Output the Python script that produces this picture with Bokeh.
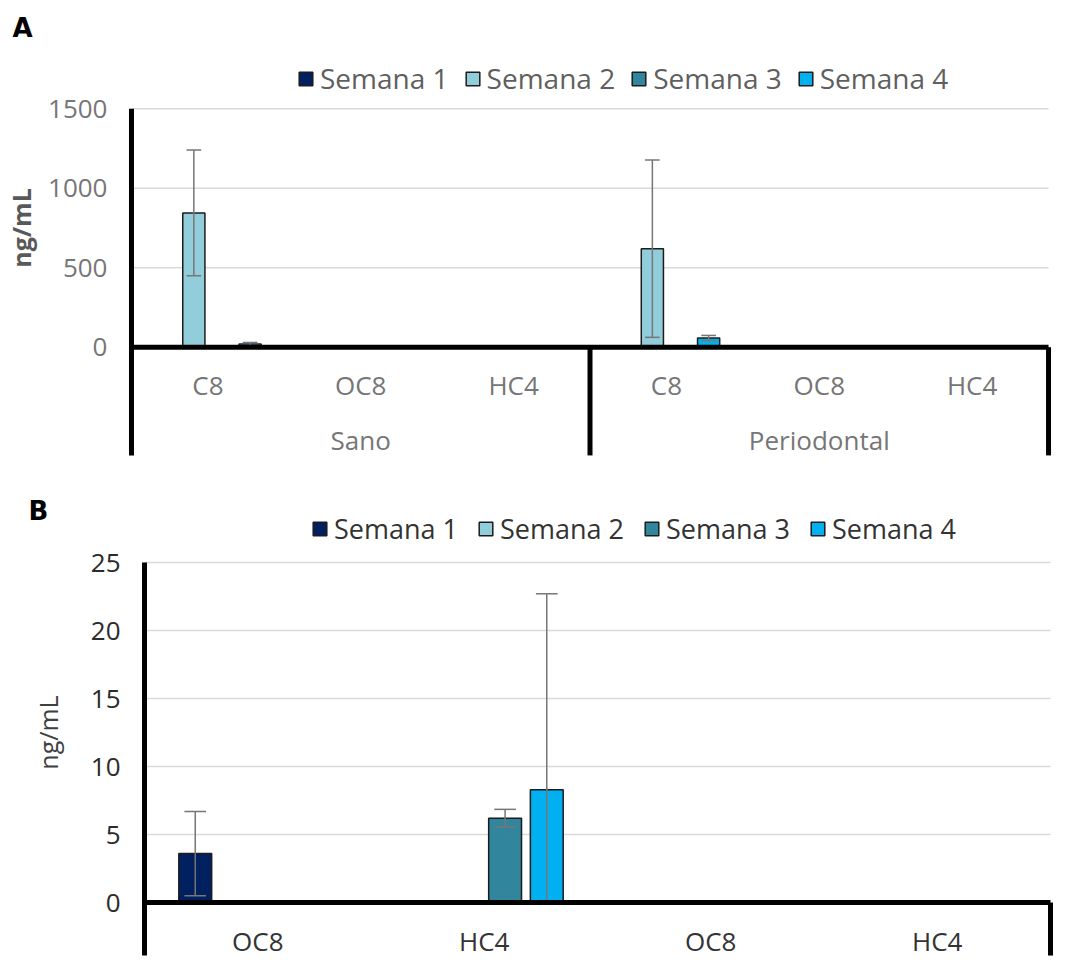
import numpy as np
from bokeh.plotting import figure
from bokeh.layouts import column
from bokeh.models import Range1d, FixedTicker, Legend, LegendItem
from bokeh.core.properties import value
from bokeh.embed import file_html
from bokeh.resources import INLINE

FONT = "Open Sans"

# ---- shared series ----
series = ["Semana 1", "Semana 2", "Semana 3", "Semana 4"]
colors = ["#002060", "#92CDDC", "#31859C", "#00B0F0"]

# ---- panel A: concentrations by group (Sano / Periodontal) and compound ----
groups_a = ["Sano", "Periodontal"]
compounds_a = ["C8", "OC8", "HC4", "C8", "OC8", "HC4"]
# order: Sano C8, OC8, HC4, Periodontal C8, OC8, HC4
a_sem1 = [0, 0, 0, 0, 0, 0]
a_sem2 = [845, 0, 0, 620, 0, 0]
a_sem3 = [0, 0, 0, 0, 0, 0]
a_sem4 = [20, 0, 0, 58, 0, 0]
a_err1 = [0, 0, 0, 0, 0, 0]
a_err2 = [395, 0, 0, 558, 0, 0]
a_err3 = [0, 0, 0, 0, 0, 0]
a_err4 = [10, 0, 0, 16, 0, 0]
ticks_a = [0, 500, 1000, 1500]

# ---- panel B: low-range compounds ----
compounds_b = ["OC8", "HC4", "OC8", "HC4"]
b_sem1 = [3.6, 0, 0, 0]
b_sem2 = [0, 0, 0, 0]
b_sem3 = [0, 6.2, 0, 0]
b_sem4 = [0, 8.3, 0, 0]
b_err1 = [3.1, 0, 0, 0]
b_err2 = [0, 0, 0, 0]
b_err3 = [0, 0.65, 0, 0]
b_err4 = [0, 14.4, 0, 0]
ticks_b = [0, 5, 10, 15, 20, 25]

BAR_W = 0.145   # bar width, in category units
STEP = 0.184    # distance between neighbouring bars of one category


def build_panel(vals, errs, cat_labels, group_labels, ticks, xr, yr, height,
                floor, txt, tick_txt, legend_style, ylab, letter, legend_xy):
    n = len(cat_labels)
    p = figure(width=1065, height=height, x_range=Range1d(*xr), y_range=Range1d(*yr),
               x_axis_type=None, toolbar_location=None, output_backend="svg",
               min_border_left=0, min_border_right=0, min_border_top=0, min_border_bottom=0)
    p.outline_line_color = None
    p.background_fill_color = "white"
    p.border_fill_color = "white"
    p.ygrid.grid_line_color = None

    # value axis pinned at the first category edge; its line is drawn as a thick segment
    ax = p.yaxis[0]
    ax.fixed_location = 0
    ax.ticker = FixedTicker(ticks=ticks)
    ax.axis_line_color = None
    ax.major_tick_line_color = None
    ax.minor_tick_line_color = None
    ax.major_tick_out = 0
    ax.major_label_standoff = 24
    ax.major_label_text_font = FONT
    ax.major_label_text_font_size = "26px"
    ax.major_label_text_color = tick_txt

    # horizontal gridlines
    gt = [t for t in ticks if t > 0]
    p.segment(x0=[0] * len(gt), x1=[n] * len(gt), y0=gt, y1=gt,
              line_color="#d9d9d9", line_width=1.5)

    centers = np.arange(n) + 0.5
    items = []
    hw = BAR_W * 0.33
    for k, (name, col) in enumerate(zip(series, colors)):
        xs = centers + (k - 1.5) * STEP
        v = np.array(vals[k], dtype=float)
        e = np.array(errs[k], dtype=float)
        r = p.vbar(x=xs, top=v, bottom=0, width=BAR_W, fill_color=col,
                   line_color="#1c1c1c", line_width=1.5)
        items.append(LegendItem(label=name, renderers=[r]))
        m = e > 0
        if m.any():
            up = v[m] + e[m]
            lo = np.maximum(v[m] - e[m], 0)
            p.segment(x0=xs[m], x1=xs[m], y0=lo, y1=up, line_color="#767676", line_width=1.5)
            p.segment(x0=xs[m] - hw, x1=xs[m] + hw, y0=up, y1=up, line_color="#767676", line_width=1.5)
            ml = (v[m] - e[m]) > 0
            if ml.any():
                p.segment(x0=xs[m][ml] - hw, x1=xs[m][ml] + hw, y0=lo[ml], y1=lo[ml],
                          line_color="#767676", line_width=1.5)

    # axis frame: baseline, left axis, group dividers
    p.segment(x0=[0], x1=[n], y0=[0], y1=[0], line_color="black", line_width=5)
    p.segment(x0=[0], x1=[0], y0=[floor], y1=[ticks[-1]], line_color="black", line_width=5)
    dividers = [n]
    if group_labels:
        per = n // len(group_labels)
        dividers = [per * g for g in range(1, len(group_labels) + 1)]
    p.segment(x0=dividers, x1=dividers, y0=[floor] * len(dividers), y1=[0] * len(dividers),
              line_color="black", line_width=5)

    # category labels under the baseline
    p.text(x=centers, y=[0] * n, text=cat_labels, y_offset=38, text_align="center",
           text_baseline="middle", text_font=value(FONT), text_font_size="26px",
           text_color=txt)
    if group_labels:
        per = n // len(group_labels)
        gx = [per * g + per / 2 for g in range(len(group_labels))]
        p.text(x=gx, y=[0] * len(gx), text=group_labels, y_offset=93, text_align="center",
               text_baseline="middle", text_font=value(FONT), text_font_size="26px",
               text_color=txt)

    # unit title, rotated, centred on the tick span
    yx, ycol, yweight = ylab
    p.text(x=[yx], y=[(ticks[0] + ticks[-1]) / 2], text=["ng/mL"], angle=np.pi / 2,
           text_align="center", text_baseline="middle", text_font=value(FONT),
           text_font_size="25px", text_font_style=yweight, text_color=ycol)

    # panel letter
    lx, ly, ltxt = letter
    p.text(x=[lx], y=[ly], text=[ltxt], text_align="left", text_baseline="middle",
           text_font=value("DejaVu Sans"), text_font_size="26px",
           text_font_style="bold", text_color="black")

    lcol, lsize, lspace = legend_style
    legend = Legend(items=items, orientation="horizontal", location=legend_xy,
                    glyph_width=17, glyph_height=17, label_standoff=6, spacing=lspace,
                    padding=0, margin=0, border_line_color=None,
                    background_fill_alpha=0, label_text_font=FONT,
                    label_text_font_size=lsize, label_text_color=lcol)
    p.add_layout(legend)
    return p


pa = build_panel(
    [a_sem1, a_sem2, a_sem3, a_sem4], [a_err1, a_err2, a_err3, a_err4],
    compounds_a, groups_a, ticks_a,
    xr=(-0.857, 6.111), yr=(-838.7, 2181.3), height=480,
    floor=-681, txt="#767676", tick_txt="#767676", legend_style=("#5f5f5f", "28px", 15),
    ylab=(-0.72, "#595959", "bold"), letter=(-0.779, 2011, "A"), legend_xy=(297, 383))

pb = build_panel(
    [b_sem1, b_sem2, b_sem3, b_sem4], [b_err1, b_err2, b_err3, b_err4],
    compounds_b, None, ticks_b,
    xr=(-0.6358, 4.0662), yr=(-4.779, 31.03), height=487,
    floor=-3.9, txt="#333333", tick_txt="#2b2b2b", legend_style=("#333333", "27px", 19),
    ylab=(-0.428, "#404040", "normal"), letter=(-0.512, 28.8, "B"), legend_xy=(311, 420))

layout = column(pa, pb, spacing=0)
open("out.html", "w").write(file_html(layout, INLINE))
